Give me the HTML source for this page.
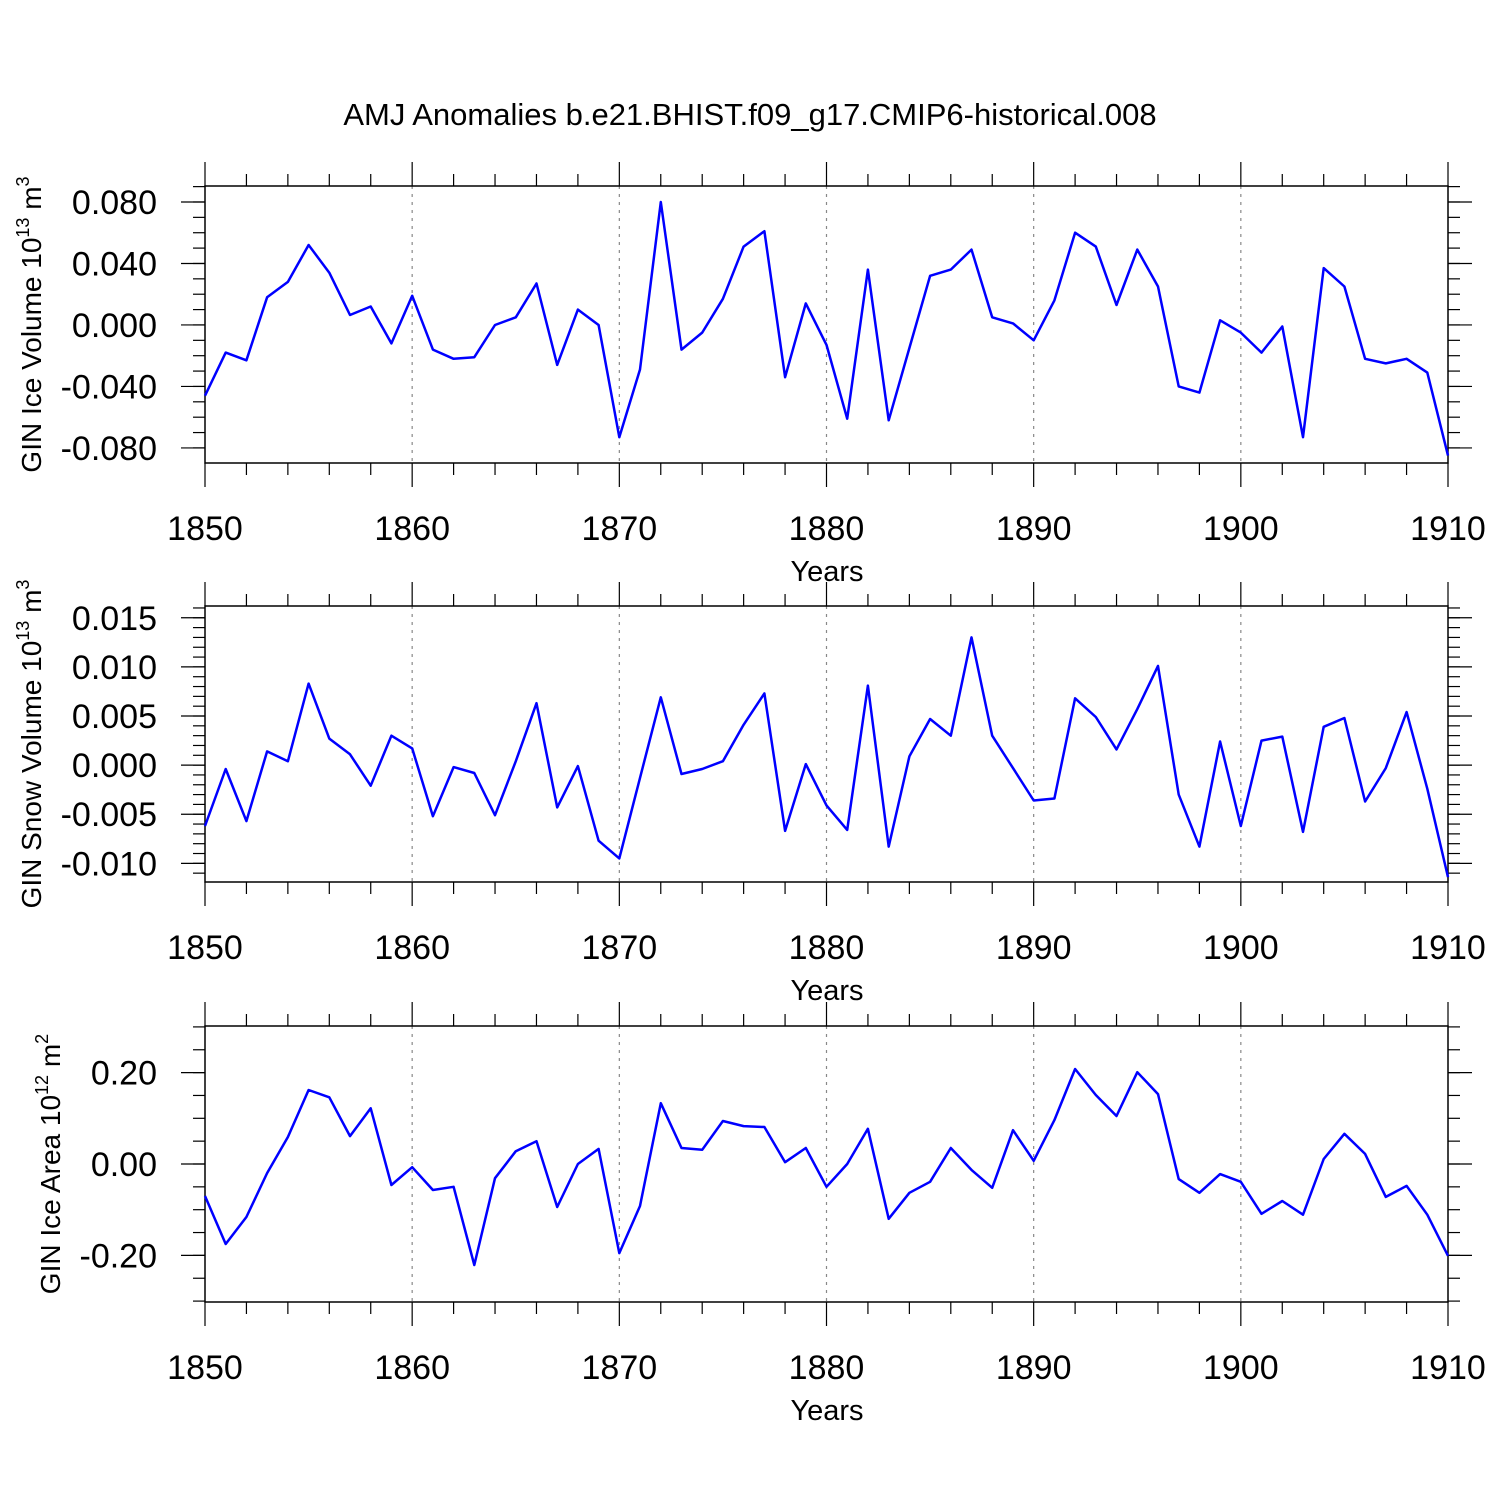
<!DOCTYPE html>
<html><head><meta charset="utf-8"><style>
html,body{margin:0;padding:0;background:#fff}
svg{display:block;font-family:"Liberation Sans",Arial,sans-serif}
</style></head><body>
<svg id="chart" width="1500" height="1500" viewBox="0 0 1500 1500">
<rect width="1500" height="1500" fill="#fff"/>
<text x="750" y="125" font-size="31" text-anchor="middle">AMJ Anomalies b.e21.BHIST.f09_g17.CMIP6-historical.008</text>
</svg>
<script>
const years = [];
for (let y = 1850; y <= 1910; y++) years.push(y);
const iceVolume = [-0.046,-0.018,-0.023,0.018,0.028,0.052,0.034,0.0065,0.012,-0.012,0.019,-0.016,-0.022,-0.021,0.000,0.005,0.027,-0.026,0.010,0.000,-0.073,-0.029,0.080,-0.016,-0.005,0.017,0.051,0.061,-0.034,0.014,-0.013,-0.061,0.036,-0.062,-0.015,0.032,0.036,0.049,0.005,0.001,-0.010,0.016,0.060,0.051,0.013,0.049,0.025,-0.040,-0.044,0.003,-0.005,-0.018,-0.001,-0.073,0.037,0.025,-0.022,-0.025,-0.022,-0.031,-0.085];
const snowVolume = [-0.0062,-0.0004,-0.0057,0.0014,0.0004,0.0083,0.0027,0.0011,-0.0021,0.0030,0.0017,-0.0052,-0.0002,-0.0008,-0.0051,0.0004,0.0063,-0.0043,-0.0001,-0.0077,-0.0095,-0.0013,0.0069,-0.0009,-0.0004,0.0004,0.0041,0.0073,-0.0067,0.0001,-0.0041,-0.0066,0.0081,-0.0083,0.0009,0.0047,0.0030,0.0130,0.0030,-0.0003,-0.0036,-0.0034,0.0068,0.0049,0.0016,0.0057,0.0101,-0.0030,-0.0083,0.0024,-0.0062,0.0025,0.0029,-0.0068,0.0039,0.0048,-0.0037,-0.0003,0.0054,-0.0024,-0.0114];
const iceArea = [-0.070,-0.175,-0.116,-0.020,0.059,0.162,0.146,0.061,0.122,-0.046,-0.007,-0.057,-0.050,-0.221,-0.031,0.028,0.050,-0.094,0.000,0.033,-0.195,-0.092,0.133,0.035,0.031,0.094,0.083,0.081,0.004,0.035,-0.050,0.000,0.077,-0.120,-0.063,-0.039,0.035,-0.013,-0.052,0.074,0.007,0.096,0.208,0.151,0.105,0.201,0.153,-0.033,-0.063,-0.022,-0.039,-0.109,-0.081,-0.111,0.011,0.066,0.022,-0.072,-0.048,-0.111,-0.201];
const xTickLabels = ["1850","1860","1870","1880","1890","1900","1910"];
const ticks1 = ["-0.080","-0.040","0.000","0.040","0.080"];
const ticks2 = ["-0.010","-0.005","0.000","0.005","0.010","0.015"];
const ticks3 = ["-0.20","0.00","0.20"];

const NS = "http://www.w3.org/2000/svg";
const svg = document.getElementById("chart");
function mk(tag, attrs, parent){const e=document.createElementNS(NS,tag);for(const k in attrs)e.setAttribute(k,attrs[k]);(parent||svg).appendChild(e);return e;}

const X0=205,X1=1448;
function xs(yr){return X0+(yr-1850)/60*(X1-X0);}

function panel(idx,top,bot,ymin,ymax,ticks,minorStep,values,titleMain,exp,unit,name){
  const g=mk("g",{});
  
  
  const ys=v=>bot-(v-ymin)/(ymax-ymin)*(bot-top);
  for(let yr=1860;yr<=1900;yr+=10){
    const l=mk("line",{x1:xs(yr),x2:xs(yr),y1:top,y2:bot,stroke:"#888","stroke-width":1.2,"stroke-dasharray":"3,5"},g);
    
    
  }
  const fr=mk("rect",{x:X0,y:top,width:X1-X0,height:bot-top,fill:"none",stroke:"#000","stroke-width":1.5},g);
  
  
  for(let yr=1850;yr<=1910;yr+=2){
    const major=(yr%10===0);const L=major?24:12;const x=xs(yr);
    mk("line",{x1:x,x2:x,y1:top,y2:top-L,stroke:"#000","stroke-width":1.2},g);
    mk("line",{x1:x,x2:x,y1:bot,y2:bot+L,stroke:"#000","stroke-width":1.2},g);
  }
  xTickLabels.forEach(s=>{
    const t=mk("text",{x:xs(+s),y:bot+77,"font-size":34,"text-anchor":"middle"},g);
    t.textContent=s;
    
    
  });
  const xt=mk("text",{x:827,y:bot+118,"font-size":29,"text-anchor":"middle"},g);
  xt.textContent="Years";
  
  
  const nmin=Math.ceil(ymin/minorStep-1e-6), nmax=Math.floor(ymax/minorStep+1e-6);
  for(let i=nmin;i<=nmax;i++){
    const y=ys(i*minorStep);
    mk("line",{x1:X0,x2:X0-12,y1:y,y2:y,stroke:"#000","stroke-width":1.2},g);
    mk("line",{x1:X1,x2:X1+12,y1:y,y2:y,stroke:"#000","stroke-width":1.2},g);
  }
  ticks.forEach(s=>{
    const y=ys(parseFloat(s));
    mk("line",{x1:X0,x2:X0-24,y1:y,y2:y,stroke:"#000","stroke-width":1.2},g);
    mk("line",{x1:X1,x2:X1+24,y1:y,y2:y,stroke:"#000","stroke-width":1.2},g);
    const t=mk("text",{x:157,y:y+12,"font-size":34,"text-anchor":"end"},g);
    t.textContent=s;
    
    
  });
  const cy=(top+bot)/2;
  const yt=mk("text",{x:0,y:0,"font-size":28,"text-anchor":"middle",transform:`translate(${idx===3?60:41},${cy}) rotate(-90)`},g);
  
  
  yt.appendChild(document.createTextNode(titleMain+" 10"));
  const sp=mk("tspan",{"font-size":18,dy:-12},yt);sp.textContent=exp;
  const sp2=mk("tspan",{dy:12},yt);sp2.textContent=" m";
  const sp3=mk("tspan",{"font-size":18,dy:-12},yt);sp3.textContent=unit;
  const pts=values.map((v,i)=>xs(years[i]).toFixed(1)+","+ys(v).toFixed(1)).join(" ");
  const pl=mk("polyline",{points:pts,fill:"none",stroke:"#0000ff","stroke-width":2.5,"stroke-linejoin":"round"},g);
  
  
}
panel(1,186,463,-0.0898,0.0904,ticks1,0.01,iceVolume,"GIN Ice Volume","13","3","ice-volume");
panel(2,606,882,-0.0119,0.0162,ticks2,0.001,snowVolume,"GIN Snow Volume","13","3","snow-volume");
panel(3,1026,1302,-0.302,0.302,ticks3,0.05,iceArea,"GIN Ice Area","12","2","ice-area");
</script>
</body></html>
